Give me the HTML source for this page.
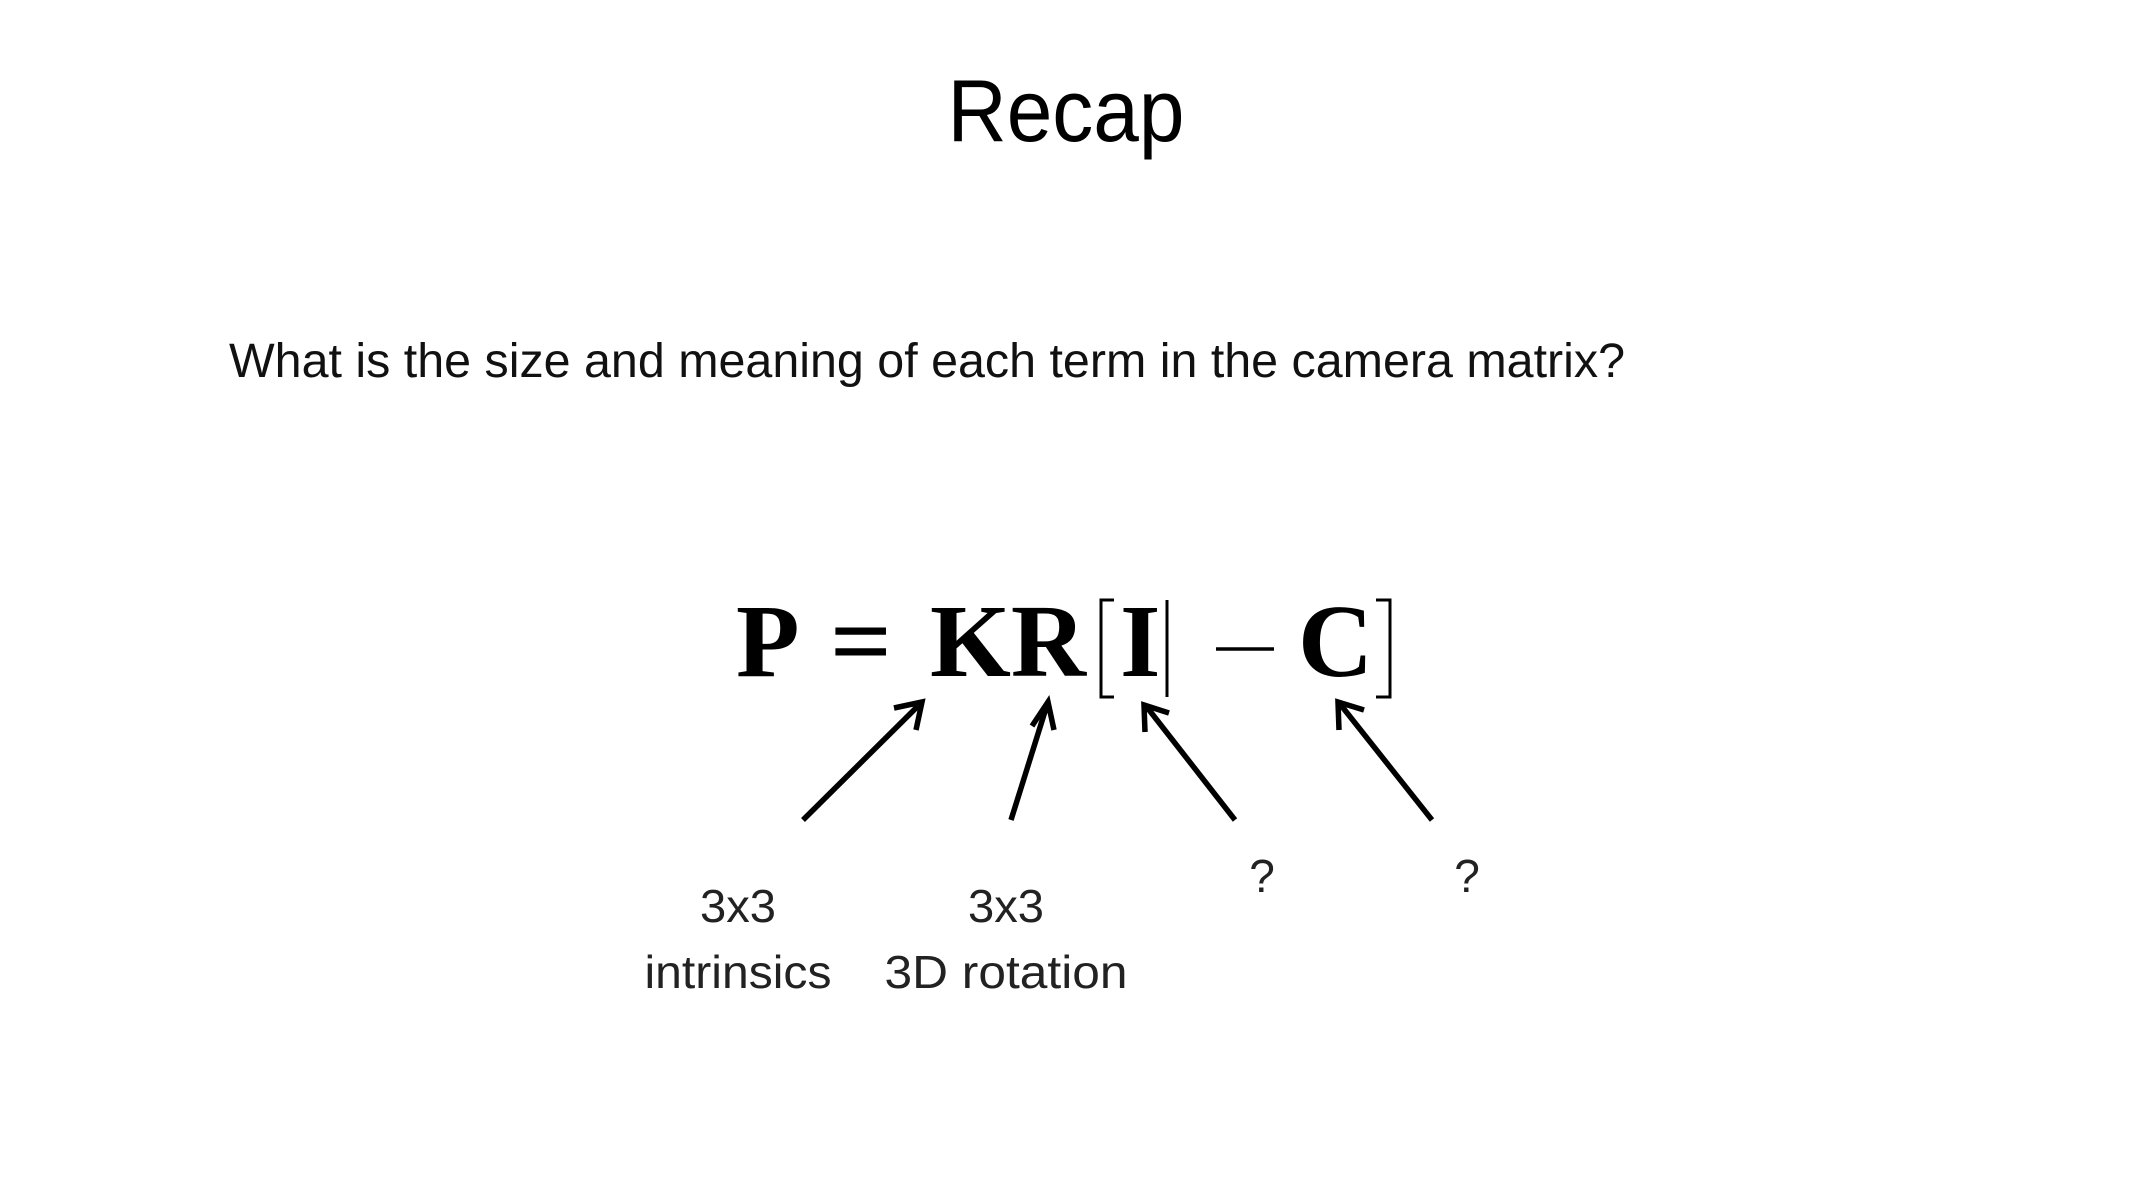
<!DOCTYPE html>
<html><head><meta charset="utf-8"><style>
html,body{margin:0;padding:0;background:#fff;width:2133px;height:1200px;overflow:hidden}
svg{display:block}
</style></head><body>
<svg width="2133" height="1200" viewBox="0 0 2133 1200" xmlns="http://www.w3.org/2000/svg">
<g transform="translate(-6,-3)">
<g font-family="Liberation Sans, sans-serif" fill="#000">
<text x="1072" y="144" font-size="88" text-anchor="middle" textLength="237" lengthAdjust="spacingAndGlyphs">Recap</text>
<text x="235" y="380" font-size="48" textLength="1396" lengthAdjust="spacingAndGlyphs" fill="#111">What is the size and meaning of each term in the camera matrix?</text>
<text x="744" y="925" font-size="46" text-anchor="middle" textLength="76" lengthAdjust="spacingAndGlyphs" fill="#222">3x3</text>
<text x="744" y="991" font-size="46" text-anchor="middle" textLength="187" lengthAdjust="spacingAndGlyphs" fill="#222">intrinsics</text>
<text x="1012" y="925" font-size="46" text-anchor="middle" textLength="76" lengthAdjust="spacingAndGlyphs" fill="#222">3x3</text>
<text x="1012" y="991" font-size="46" text-anchor="middle" textLength="243" lengthAdjust="spacingAndGlyphs" fill="#222">3D rotation</text>
<text x="1268" y="895" font-size="46" text-anchor="middle" fill="#222">?</text>
<text x="1473" y="895" font-size="46" text-anchor="middle" fill="#222">?</text>
</g>
<g font-family="Liberation Serif, serif" font-weight="bold" font-size="104" fill="#000">
<text x="742" y="679">P</text>
<text x="836" y="679" textLength="62" lengthAdjust="spacingAndGlyphs">=</text>
<text x="936" y="679">KR</text>
<text x="1126" y="679">I</text>
<text x="1304" y="679">C</text>
</g>
<g stroke="#000" fill="none" stroke-width="3">
<path d="M1120 603 H1107 V700 H1120"/>
<line x1="1173" y1="603" x2="1173" y2="700"/>
<path d="M1382 603 H1396 V700 H1382"/>
</g>
<line x1="1222" y1="652" x2="1280" y2="652" stroke="#000" stroke-width="3.5"/>
<g stroke="#000" stroke-width="5.5" fill="none" stroke-linecap="butt">
<line x1="809" y1="823" x2="926" y2="707"/>
<polyline points="900,711 928,705 922,733"/>
<line x1="1017" y1="823" x2="1053" y2="708"/>
<polyline points="1038,729 1054,705 1060,733"/>
<line x1="1241" y1="823" x2="1152" y2="709"/>
<polyline points="1151,735 1150,708 1175,716"/>
<line x1="1438" y1="823" x2="1346" y2="707"/>
<polyline points="1345,733 1344,705 1370,713"/>
</g>
</g>
</svg>
</body></html>
